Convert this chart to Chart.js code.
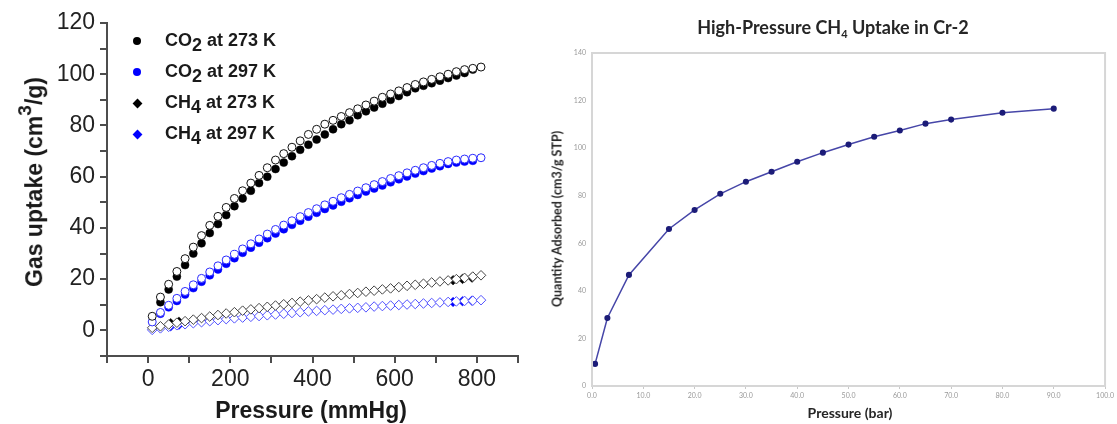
<!DOCTYPE html>
<html>
<head>
<meta charset="utf-8">
<script src="https://cdn.jsdelivr.net/npm/chart.js@4.4.1/dist/chart.umd.min.js"></script>
<style>
  body { margin: 0; background: #fff; }
  #wrap { position: relative; width: 1117px; height: 424px; overflow: hidden; }
  canvas { position: absolute; top: 0; }
  .txt { position: absolute; white-space: nowrap; }
  .left { font-family: "Liberation Sans", Arial, sans-serif; font-weight: bold; color: #1a1a1a; }
  .right { font-family: Lato, "Open Sans", sans-serif; font-weight: bold; color: #262626; }
  .rot { transform: translate(-50%, -50%) rotate(-90deg); }
  .ctr { transform: translate(-50%, -50%); }
  .lg { font-size: 18px; line-height: 20px; }
  .lg span { font-size: 18px; position: relative; top: 5px; }
  .mk { position: absolute; width: 8px; height: 8px; }
  .dot { border-radius: 50%; }
  .dia { width: 7px; height: 7px; transform: rotate(45deg); }
</style>
</head>
<body>
<div id="wrap">
  <canvas id="gasChart" width="540" height="424" style="left:0"></canvas>
  <canvas id="hpChart" width="577" height="424" style="left:540px"></canvas>

  <!-- left panel labels -->
  <div class="txt left rot" style="left:32px; top:182px; font-size:23px;">Gas uptake (cm<sup style="font-size:19px; position:relative; top:-2px;">3</sup>/g)</div>
  <div class="txt left ctr" style="left:311px; top:410px; font-size:23px;">Pressure (mmHg)</div>

  <div class="mk dot" style="left:133px; top:37px; background:#000;"></div>
  <div class="mk dot" style="left:133px; top:68px; background:#0000ff;"></div>
  <div class="mk dia" style="left:134px; top:100px; background:#000;"></div>
  <div class="mk dia" style="left:134px; top:131px; background:#0000ff;"></div>
  <div class="txt left lg" style="left:165px; top:30px;">CO<span>2</span> at 273 K</div>
  <div class="txt left lg" style="left:165px; top:61px;">CO<span>2</span> at 297 K</div>
  <div class="txt left lg" style="left:165px; top:92px;">CH<span>4</span> at 273 K</div>
  <div class="txt left lg" style="left:165px; top:123px;">CH<span>4</span> at 297 K</div>

  <!-- right panel labels -->
  <div class="txt right ctr" style="left:833px; top:28px; font-size:18px;">High-Pressure CH<sub style="font-size:11px;">4</sub> Uptake in Cr-2</div>
  <div class="txt right rot" style="left:557px; top:219px; font-size:12.5px;">Quantity Adsorbed (cm3/g STP)</div>
  <div class="txt right ctr" style="left:850px; top:412px; font-size:14px;">Pressure (bar)</div>
</div>

<script>
// Low-pressure isotherms (mmHg): filled = adsorption, open = desorption
const adsP = [30, 50, 70, 90, 110, 130, 150, 170, 190, 210, 230, 250, 270, 290, 310, 330, 350, 370, 390,
    410, 430, 450, 470, 490, 510, 530, 550, 570, 590, 610, 630, 650, 670, 690, 710, 730, 750, 770, 790];
const desP = [10, 30, 50, 70, 90, 110, 130, 150, 170, 190, 210, 230, 250, 270, 290, 310, 330, 350, 370, 390,
    410, 430, 450, 470, 490, 510, 530, 550, 570, 590, 610, 630, 650, 670, 690, 710, 730, 750, 770, 790, 810];

const co2_273_ads = [11, 16, 21, 25.5, 30, 34, 38, 41.5, 45, 48.5, 51.5, 54.5, 57.5, 60, 63, 65.5, 68, 70.5, 72.5,
    74.5, 76.5, 78.5, 80.5, 82, 84, 85.5, 87, 88.5, 90, 91.5, 93, 94.5, 95.5, 96.5, 97.5, 98.5, 99.5, 100.5, 101.8];
const co2_273_des = [5.5, 13, 18, 23, 28, 32.5, 37, 41, 44.5, 48, 51.5, 54.5, 57.5, 60.5, 63.5, 66.5, 69, 71.5, 74, 76.5,
    78.5, 80.5, 82, 83.5, 85, 86.5, 88, 89.5, 91, 92.3, 93.5, 94.8, 96, 97, 98, 99, 100, 101, 101.8, 102.3, 102.8];

const co2_297_ads = [6.5, 9, 11.5, 14, 16.5, 19, 21.5, 23.8, 26, 28.2, 30.3, 32.3, 34.2, 36, 37.8, 39.5, 41.2, 42.8, 44.4,
    45.9, 47.4, 48.8, 50.2, 51.6, 52.9, 54.2, 55.4, 56.6, 57.8, 59, 60.1, 61.2, 62.2, 63.2, 64.1, 65, 65.5, 65.9, 66.2];
const co2_297_des = [3.3, 7, 9.8, 12.5, 15.2, 17.8, 20.3, 22.8, 25.2, 27.5, 29.7, 31.8, 33.8, 35.7, 37.6, 39.4, 41.1, 42.8, 44.4, 46,
    47.5, 49, 50.4, 51.8, 53.1, 54.4, 55.7, 56.9, 58.1, 59.3, 60.4, 61.5, 62.5, 63.5, 64.4, 65.2, 65.9, 66.5, 66.9, 67.2, 67.4];

const ch4_273_des = [1.0, 1.6, 2.3, 3.0, 3.6, 4.2, 4.8, 5.4, 6.0, 6.6, 7.1, 7.7, 8.2, 8.7, 9.2, 9.7, 10.2, 10.7, 11.2, 11.7,
    12.2, 12.8, 13.3, 13.7, 14.2, 14.6, 15.1, 15.5, 16.0, 16.4, 16.9, 17.4, 17.8, 18.2, 18.7, 19.1, 19.5, 20.0, 20.5, 21.0, 21.5];
const ch4_297_des = [0.2, 0.8, 1.4, 2.0, 2.4, 2.8, 3.2, 3.6, 4.0, 4.4, 4.7, 5.0, 5.3, 5.6, 5.9, 6.2, 6.5, 6.8, 7.1, 7.4,
    7.6, 7.9, 8.1, 8.4, 8.6, 8.8, 9.0, 9.3, 9.5, 9.7, 9.9, 10.1, 10.3, 10.5, 10.7, 10.9, 11.1, 11.3, 11.5, 11.6, 11.8];

// CH4 adsorption points that show beside the open desorption markers
const ch4AdsP = [55, 75, 742, 765, 788];
const ch4_273_ads = [2.8, 3.4, 19.6, 20.1, 20.6];
const ch4_297_ads = [1.6, 2.2, 11.1, 11.4, 11.6];

// High-pressure CH4 isotherm (bar)
const hpPressure = [0.6, 3, 7.2, 15, 20, 25, 30, 35, 40, 45, 50, 55, 60, 65, 70, 80, 90];
const hpUptake = [9.3, 28.6, 46.7, 66, 74, 80.8, 85.9, 90.1, 94.3, 98.1, 101.5, 104.8, 107.4, 110.3, 112, 114.9, 116.6];

const pts = (xs, ys) => xs.map((x, i) => ({ x: x, y: ys[i] }));

function series(xs, ys, color, style, open, order) {
    return {
        data: pts(xs, ys),
        pointStyle: style,
        pointRadius: style === "rectRot" ? 4.8 : 4,
        pointBackgroundColor: open ? "#fff" : color,
        pointBorderColor: color,
        pointBorderWidth: open ? 1 : 0.5,
        showLine: false,
        order: order
    };
}

const axisColor = "#4d4d4d";
const tickFont = { family: "'Liberation Sans', Arial, sans-serif", size: 23 };

new Chart(document.getElementById("gasChart"), {
    type: "scatter",
    data: {
        datasets: [
            series(adsP, co2_273_ads, "#000", "circle", false, 3),
            series(adsP, co2_297_ads, "#0000ff", "circle", false, 3),
            series(ch4AdsP, ch4_273_ads, "#000", "rectRot", false, 3),
            series(ch4AdsP, ch4_297_ads, "#0000ff", "rectRot", false, 3),
            series(desP, co2_273_des, "#111", "circle", true, 1),
            series(desP, co2_297_des, "#2a2aff", "circle", true, 1),
            series(desP, ch4_273_des, "#444", "rectRot", true, 1),
            series(desP, ch4_297_des, "#5050ff", "rectRot", true, 1)
        ]
    },
    options: {
        responsive: false,
        animation: false,
        layout: { padding: { top: 23, right: 22, bottom: 0, left: 0 } },
        plugins: { legend: { display: false }, tooltip: { enabled: false } },
        scales: {
            x: {
                type: "linear", min: -100, max: 900,
                afterFit: s => { s.height = 68; },
                ticks: {
                    stepSize: 100, autoSkip: false, maxRotation: 0, padding: 3,
                    color: "#222", font: tickFont,
                    callback: v => (v >= 0 && v % 200 === 0 && v <= 800) ? v : ""
                },
                grid: { drawOnChartArea: false, tickLength: 7, color: axisColor, lineWidth: 2 },
                border: { color: axisColor, width: 2 }
            },
            y: {
                type: "linear", min: -10, max: 120,
                afterFit: s => { s.width = 107; },
                ticks: {
                    stepSize: 10, autoSkip: false, padding: 5,
                    color: "#222", font: tickFont,
                    callback: v => (v >= 0 && v % 20 === 0) ? v : ""
                },
                grid: { drawOnChartArea: false, tickLength: 7, color: axisColor, lineWidth: 2 },
                border: { color: axisColor, width: 2 }
            }
        }
    }
});

// light frame round the plot area of the high-pressure chart
const frame = {
    id: "frame",
    afterDraw(chart) {
        const a = chart.chartArea, c = chart.ctx;
        c.save();
        c.strokeStyle = "#d6d6d6";
        c.lineWidth = 2;
        c.strokeRect(a.left, a.top, a.right - a.left, a.bottom - a.top);
        c.restore();
    }
};

const smallTicks = { family: "Lato, 'Open Sans', sans-serif", size: 7 };

new Chart(document.getElementById("hpChart"), {
    type: "scatter",
    data: {
        datasets: [{
            data: pts(hpPressure, hpUptake),
            showLine: true,
            borderColor: "#4646a8",
            borderWidth: 1.5,
            pointRadius: 2.3,
            pointBackgroundColor: "#1c1c78",
            pointBorderColor: "#1c1c78",
            tension: 0
        }]
    },
    options: {
        responsive: false,
        animation: false,
        layout: { padding: { top: 53, right: 9, bottom: 0, left: 0 } },
        plugins: { legend: { display: false }, tooltip: { enabled: false } },
        scales: {
            x: {
                type: "linear", min: 0, max: 100,
                afterFit: s => { s.height = 38; },
                ticks: {
                    stepSize: 10, autoSkip: false, maxRotation: 0, padding: 3,
                    color: "#999", font: smallTicks,
                    callback: v => v.toFixed(1)
                },
                grid: { drawOnChartArea: false, tickLength: 3, color: "#c8c8c8" },
                border: { color: "#d6d6d6", width: 2 }
            },
            y: {
                type: "linear", min: 0, max: 140,
                afterFit: s => { s.width = 52; },
                ticks: {
                    stepSize: 20, autoSkip: false, padding: 6,
                    color: "#999", font: smallTicks
                },
                grid: { drawOnChartArea: false, drawTicks: false },
                border: { color: "#d6d6d6", width: 2 }
            }
        }
    },
    plugins: [frame]
});
</script>
</body>
</html>
